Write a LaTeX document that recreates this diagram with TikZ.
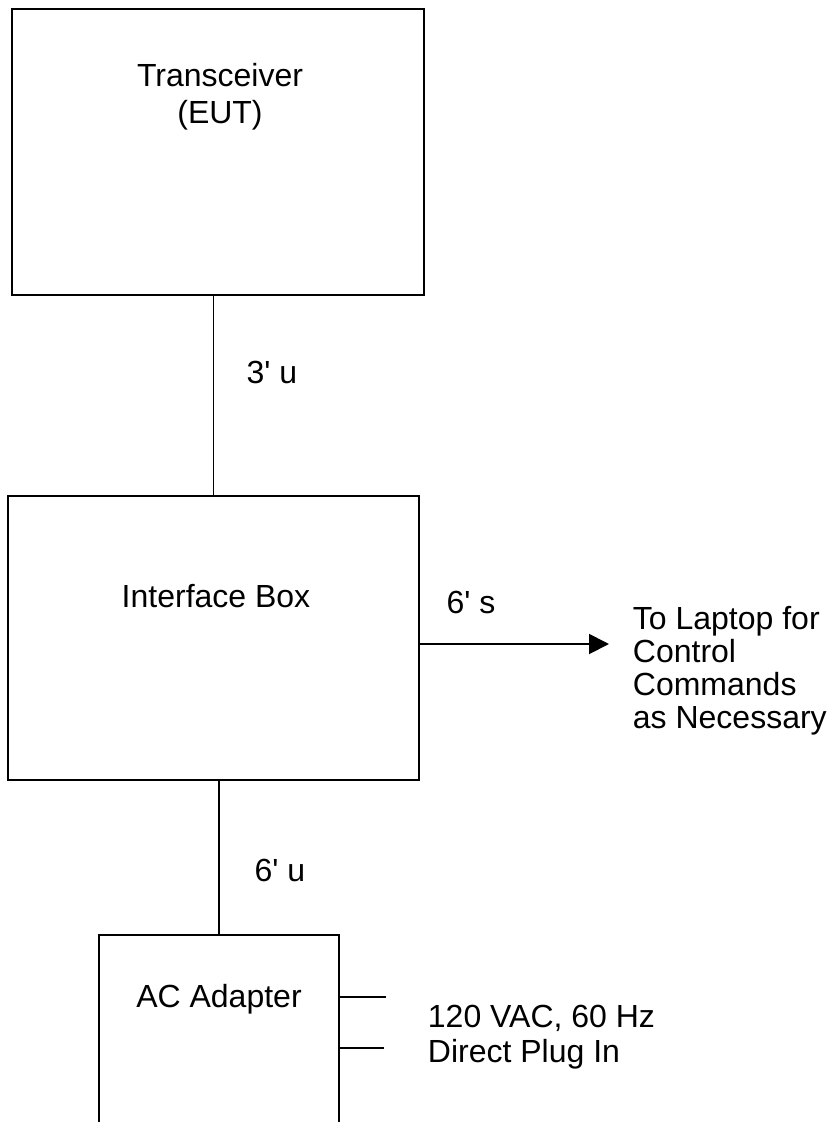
\documentclass[tikz,border=0pt]{standalone}
\usepackage{fontspec}
\setmainfont{Liberation Sans}
\usepackage{tikz}
\usetikzlibrary{positioning,arrows.meta}

\begin{document}
\begin{tikzpicture}[x=0.75pt,y=-0.75pt,line width=1.4pt]
	\useasboundingbox (0,0) rectangle (832,1122);
	\begin{scope}[every node/.style={rectangle,draw,inner sep=0pt}]
		% Boxes
		\node[minimum width=309pt,minimum height=214.5pt] (eut) at (218,152) {};
		\node[minimum width=308.25pt,minimum height=213pt] (ifbox) at (213.5,638) {};
		\node[draw=none,minimum width=178.5pt,minimum height=138.75pt] (ac) at (219,1028.5) {};
	\end{scope}

	% AC adapter runs off the page, so no bottom edge
	\draw (ac.south west) -- (ac.north west) -- (ac.north east) -- (ac.south east);

	\begin{scope}[every node/.style={inner sep=0pt,font=\fontsize{24}{27.75}\selectfont}]
		\node[align=center] (eut_text) at (220,97) {Transceiver\\(EUT)};
		\node (ifbox_text) at (216,596) {Interface Box};
		\node (ac_text) at (219,999) {AC Adapter};

		\node (cable_top) at (272,372) {3\textquotesingle{} u};
		\node (cable_side) at (471,602) {6\textquotesingle{} s};
		\node (cable_low) at (280,870) {6\textquotesingle{} u};

		\node[anchor=west,align=left,font=\fontsize{24}{24.75}\selectfont] (laptop) at (632,671)
			{To Laptop for\\Control\\Commands\\as Necessary};
		\node[anchor=west,align=left,font=\fontsize{24}{26.25}\selectfont] (mains) at (427,1037.5)
			{120 VAC, 60 Hz\\Direct Plug In};
	\end{scope}

	% Cables
	\draw (ifbox.north |- eut.south) -- (ifbox.north);
	\draw (ac.north |- ifbox.south) -- (ac.north);

	\coordinate (tip) at (609,644);
	\draw[-{Triangle[length=15pt,width=15pt]}] (ifbox.east |- tip) -- (tip);

	% Plug stubs
	\coordinate (plug_a) at (386,997);
	\coordinate (plug_b) at (384,1048);
	\draw (ac.east |- plug_a) -- (plug_a);
	\draw (ac.east |- plug_b) -- (plug_b);
\end{tikzpicture}
\end{document}
